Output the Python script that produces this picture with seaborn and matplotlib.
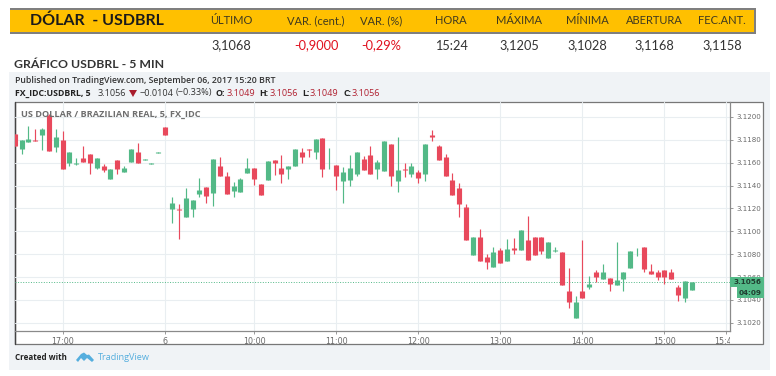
import matplotlib
matplotlib.use("Agg")
import matplotlib.pyplot as plt
import pandas as pd
import seaborn as sns
from matplotlib.patches import Polygon, Rectangle

# values
opens = [3.11855, 3.11724, 3.11785, 3.11802, 3.11843, 3.12017, 3.11741, 3.11797, 3.11596, 3.11587,
         3.11645, 3.11674, 3.11555, 3.11573, 3.11454, 3.11628, 3.11523, 3.11602, 3.11692, 3.11625,
         3.11590, 3.11687, 3.11916, 3.11198, 3.11198, 3.11122, 3.11198, 3.11328, 3.11390, 3.11331,
         3.11570, 3.11485, 3.11355, 3.11343, 3.11506, 3.11551, 3.11411, 3.11446, 3.11620, 3.11551,
         3.11545, 3.11574, 3.11698, 3.11716, 3.11696, 3.11820, 3.11630, 3.11577, 3.11437, 3.11446,
         3.11500, 3.11635, 3.11670, 3.11542, 3.11527, 3.11760, 3.11440, 3.11548, 3.11501, 3.11520,
         3.11501, 3.11838, 3.11742, 3.11650, 3.11452, 3.11380, 3.11214, 3.10797, 3.10947, 3.10773,
         3.10691, 3.10835, 3.10738, 3.10855, 3.10837, 3.10925, 3.10949, 3.10949, 3.10770, 3.10832,
         3.10817, 3.10478, 3.10238, 3.10475, 3.10510, 3.10640, 3.10583, 3.10589, 3.10533, 3.10586,
         3.10677, 3.10826, 3.10864, 3.10653, 3.10644, 3.10660, 3.10644, 3.10513, 3.10413, 3.10490]
highs = [3.11855, 3.11797, 3.11922, 3.11892, 3.11907, 3.12023, 3.11892, 3.11878, 3.11692, 3.11645,
         3.11744, 3.11674, 3.11645, 3.11587, 3.11544, 3.11628, 3.11573, 3.11724, 3.11770, 3.11635,
         3.11600, 3.11697, 3.11916, 3.11302, 3.11238, 3.11375, 3.11273, 3.11465, 3.11390, 3.11631,
         3.11648, 3.11517, 3.11427, 3.11465, 3.11637, 3.11551, 3.11411, 3.11611, 3.11620, 3.11664,
         3.11574, 3.11716, 3.11725, 3.11716, 3.11803, 3.11820, 3.11730, 3.11577, 3.11560, 3.11667,
         3.11690, 3.11661, 3.11742, 3.11620, 3.11791, 3.11760, 3.11829, 3.11600, 3.11600, 3.11540,
         3.11768, 3.11890, 3.11756, 3.11678, 3.11513, 3.11426, 3.11243, 3.10947, 3.11018, 3.10802,
         3.10867, 3.10855, 3.10934, 3.10940, 3.11010, 3.11136, 3.10949, 3.10949, 3.10908, 3.10860,
         3.10817, 3.10680, 3.10434, 3.10920, 3.10610, 3.10662, 3.10712, 3.10589, 3.10908, 3.10640,
         3.10832, 3.10858, 3.10864, 3.10712, 3.10662, 3.10660, 3.10670, 3.10527, 3.10565, 3.10560]
lows = [3.11747, 3.11680, 3.11785, 3.11791, 3.11710, 3.11706, 3.11698, 3.11541, 3.11570, 3.11578,
        3.11602, 3.11500, 3.11544, 3.11515, 3.11454, 3.11500, 3.11523, 3.11602, 3.11596, 3.11625,
        3.11590, 3.11687, 3.11840, 3.11076, 3.10936, 3.11122, 3.11122, 3.11302, 3.11244, 3.11218,
        3.11480, 3.11328, 3.11302, 3.11343, 3.11506, 3.11403, 3.11316, 3.11446, 3.11490, 3.11426,
        3.11458, 3.11574, 3.11600, 3.11650, 3.11632, 3.11472, 3.11542, 3.11365, 3.11250, 3.11394,
        3.11481, 3.11540, 3.11501, 3.11458, 3.11527, 3.11397, 3.11342, 3.11475, 3.11475, 3.11426,
        3.11443, 3.11788, 3.11620, 3.11484, 3.11320, 3.11127, 3.10920, 3.10797, 3.10736, 3.10670,
        3.10691, 3.10720, 3.10738, 3.10800, 3.10837, 3.10750, 3.10794, 3.10805, 3.10770, 3.10823,
        3.10530, 3.10332, 3.10238, 3.10416, 3.10495, 3.10557, 3.10583, 3.10480, 3.10533, 3.10480,
        3.10677, 3.10788, 3.10647, 3.10630, 3.10574, 3.10539, 3.10586, 3.10390, 3.10378, 3.10490]
closes = [3.11747, 3.11797, 3.11805, 3.11791, 3.11895, 3.11706, 3.11826, 3.11541, 3.11692, 3.11596,
          3.11602, 3.11596, 3.11645, 3.11538, 3.11544, 3.11541, 3.11555, 3.11724, 3.11596, 3.11635,
          3.11600, 3.11697, 3.11840, 3.11244, 3.11183, 3.11288, 3.11273, 3.11363, 3.11305, 3.11631,
          3.11480, 3.11328, 3.11398, 3.11454, 3.11555, 3.11455, 3.11316, 3.11611, 3.11597, 3.11501,
          3.11574, 3.11716, 3.11650, 3.11707, 3.11803, 3.11545, 3.11635, 3.11484, 3.11522, 3.11551,
          3.11690, 3.11540, 3.11501, 3.11603, 3.11791, 3.11484, 3.11540, 3.11536, 3.11571, 3.11467,
          3.11768, 3.11826, 3.11620, 3.11484, 3.11320, 3.11240, 3.10920, 3.10947, 3.10736, 3.10735,
          3.10817, 3.10720, 3.10846, 3.10837, 3.11010, 3.10750, 3.10794, 3.10829, 3.10908, 3.10837,
          3.10530, 3.10384, 3.10384, 3.10416, 3.10539, 3.10600, 3.10640, 3.10542, 3.10570, 3.10640,
          3.10832, 3.10832, 3.10670, 3.10630, 3.10600, 3.10604, 3.10586, 3.10446, 3.10565, 3.10560]

time_ticks = [7, 22, 35, 47, 59, 71, 83, 95, 104]
time_labels = ["17:00", "6", "10:00", "11:00", "12:00", "13:00", "14:00", "15:00", "15:45"]
price_ticks = [3.102, 3.104, 3.106, 3.108, 3.110, 3.112, 3.114, 3.116, 3.118, 3.120]

header_labels = ["ÚLTIMO", "VAR. (cent.)", "VAR. (%)", "HORA", "MÁXIMA", "MÍNIMA", "ABERTURA", "FEC.ANT."]
header_values = ["3,1068", "-0,9000", "-0,29%", "15:24", "3,1205", "3,1028", "3,1168", "3,1158"]
header_x = [231, 316, 381, 451, 519, 587, 654, 722]

GREEN = "#53b987"
RED = "#e8495c"
GRID = "#e9eef1"

sns.set_theme(style="white")
plt.rcParams["font.family"] = ["Open Sans", "DejaVu Sans"]

df = pd.DataFrame({"open": opens, "high": highs, "low": lows, "close": closes})
df["bar"] = df.index
df["side"] = ["up" if c >= o else "down" for o, c in zip(opens, closes)]
wicks = df.melt(id_vars=["bar", "side"], value_vars=["high", "low"], value_name="price")
bodies = df.melt(id_vars=["bar", "side"], value_vars=["open", "close"], value_name="price")
palette = {"up": GREEN, "down": RED}

fig = plt.figure(figsize=(7.76, 3.76), dpi=100)

# page furniture in pixel coordinates
bg = fig.add_axes([0, 0, 1, 1], zorder=0)
bg.set_xlim(0, 776)
bg.set_ylim(376, 0)
bg.axis("off")

bg.add_patch(Rectangle((10, 8), 746, 26, color="#7f7f7f", lw=0))
bg.add_patch(Rectangle((10, 10), 744, 22, color="#ffc000", lw=0))
bg.text(30, 20.5, "DÓLAR  - USDBRL", family="Lato", fontsize=11.5, fontweight="bold", color="#1a1a1a", va="center")
for x, label, value in zip(header_x, header_labels, header_values):
    bg.text(x, 20.5, label, family="Lato", fontsize=8.0, color="#403a20", ha="center", va="center")
    col = "#e0101e" if value.startswith("-") else "#333333"
    bg.text(x, 45.5, value, family="Lato", fontsize=9.2, color=col, ha="center", va="center")
bg.text(14, 64, "GRÁFICO USDBRL - 5 MIN", family="Lato", fontsize=8.8, fontweight="bold", color="#333333", va="center")

bg.add_patch(Rectangle((9, 72), 761, 298, color="#f0f3f6", lw=0))
bg.add_patch(Rectangle((15, 102), 748, 242, fc="white", ec="#777777", lw=0.9))
bg.plot([15, 15], [102, 344], color="#444444", lw=1)

bg.text(15, 80.5, "Published on TradingView.com, September 06, 2017 15:20 BRT", fontsize=6.35, color="#333333", va="center", fontweight="semibold")
line2 = [(15, "FX_IDC:USDBRL, 5", "#222222", "bold"), (98, "3.1056", "#333333", "normal"),
         (140, "−0.0104", "#333333", "normal"), (176, "(−0.33%)", "#333333", "normal"),
         (216, "O:", "#222222", "bold"), (227, "3.1049", "#b02030", "normal"),
         (259, "H:", "#222222", "bold"), (270, "3.1056", "#b02030", "normal"),
         (302, "L:", "#222222", "bold"), (310, "3.1049", "#b02030", "normal"),
         (343, "C:", "#222222", "bold"), (352, "3.1056", "#b02030", "normal")]
for x, txt, col, weight in line2:
    bg.text(x, 93, txt, fontsize=6.3 if weight == "bold" else 6.6, color=col, fontweight=weight, va="center")
bg.add_patch(Polygon([(129, 90), (137, 90), (133, 97)], color="#a81c2c", lw=0))

bg.text(15, 358, "Created with", fontsize=5.8, fontweight="bold", color="#222222", va="center")
bg.add_patch(Polygon([(76, 360), (81, 354), (84, 352.5), (87, 355), (89, 354.5), (94, 360), (92, 362), (87, 358),
                      (84, 361), (81, 358), (78, 362)], color="#55aede", lw=0))
bg.text(98, 358, "TradingView", fontsize=6.6, color="#55aede", va="center")

# candles
ax = fig.add_axes([14.7 / 776, 1 - 331 / 376, 715.3 / 776, 229 / 376], zorder=1)
ax.patch.set_alpha(0)

sns.lineplot(data=wicks, x="bar", y="price", hue="side", units="bar", estimator=None, palette=palette,
             linewidth=0.85, legend=False, sort=False, solid_capstyle="butt", zorder=3, ax=ax)
sns.lineplot(data=bodies, x="bar", y="price", hue="side", units="bar", estimator=None, palette=palette,
             linewidth=3.7, legend=False, sort=False, solid_capstyle="butt", zorder=4, ax=ax)

ax.set_xlim(0, 104.58)
ax.set_ylim(3.10128, 3.12131)
ax.set_xlabel("")
ax.set_ylabel("")
ax.set_xticks(time_ticks)
ax.set_xticklabels(time_labels)
ax.set_yticks(price_ticks)
ax.set_yticklabels([f"{p:.4f}" for p in price_ticks])
ax.yaxis.tick_right()
ax.grid(True, color=GRID, lw=0.8)
ax.set_axisbelow(True)
ax.tick_params(axis="both", length=2.5, width=0.6, color="#888888", labelcolor="#6a6a6a", pad=2, bottom=True, right=True)
ax.tick_params(axis="x", labelsize=5.8)
ax.tick_params(axis="y", labelsize=5.1)
for lab in ax.get_xticklabels() + ax.get_yticklabels():
    lab.set_family("DejaVu Sans")
for side in ["top", "left"]:
    ax.spines[side].set_visible(False)
for side in ["bottom", "right"]:
    ax.spines[side].set_color("#8a8a8a")
    ax.spines[side].set_linewidth(0.9)

# the last time label is cut by the price scale
ax.get_xticklabels()[-1].set_clip_path(Rectangle((600, 330), 130, 16, transform=bg.transData))

ax.text(0.0088, 0.945, "US DOLLAR / BRAZILIAN REAL, 5, FX_IDC", transform=ax.transAxes, fontsize=6.6,
        fontweight="bold", color="#6e6e6e", va="center", zorder=5)

last_price = closes[-1]
ax.axhline(last_price, color=GREEN, lw=0.7, ls=":", zorder=2)
tr = ax.get_yaxis_transform()
ax.add_patch(Rectangle((1, last_price - 0.00049), 33.7 / 715.3, 0.00091, transform=tr, color=GREEN, lw=0, clip_on=False, zorder=6))
ax.add_patch(Rectangle((1 + 7 / 715.3, last_price - 0.00146), 26.7 / 715.3, 0.00095, transform=tr, color=GREEN, lw=0, clip_on=False, zorder=6))
ax.text(1 + 18 / 715.3, last_price, f"{last_price:.4f}", transform=tr, fontsize=5.2, family="DejaVu Sans", fontweight="bold",
        color="#1f3d30", ha="center", va="center", clip_on=False, zorder=7)
ax.text(1 + 20 / 715.3, last_price - 0.00098, "04:09", transform=tr, fontsize=5.2, family="DejaVu Sans", fontweight="bold",
        color="#1f3d30", ha="center", va="center", clip_on=False, zorder=7)

fig.savefig("out.png", dpi=100)
